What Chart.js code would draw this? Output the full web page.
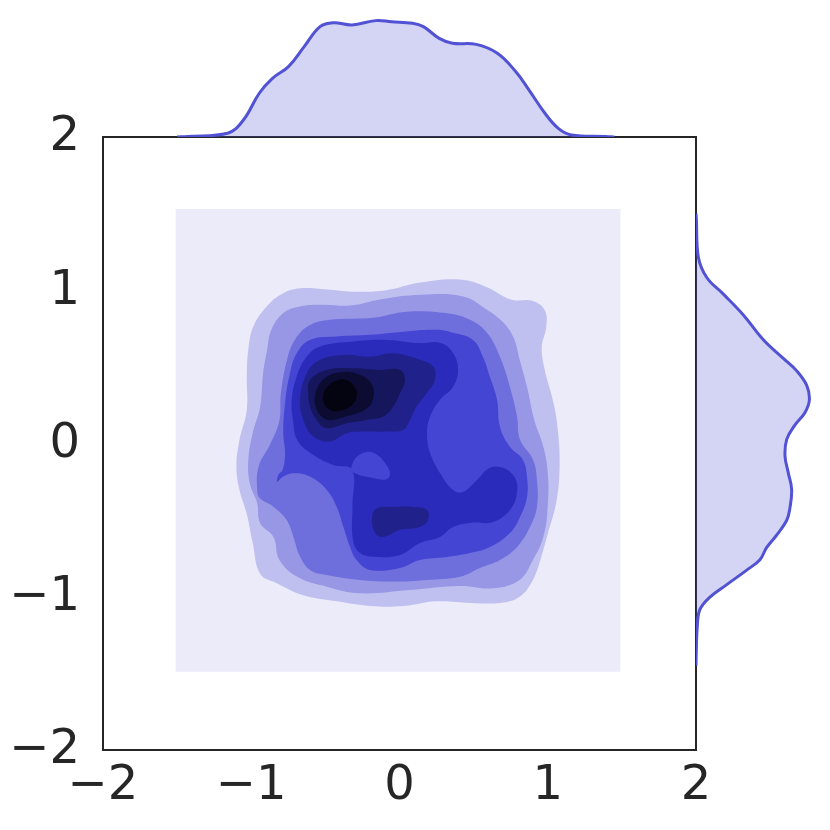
<!DOCTYPE html>
<html><head><meta charset="utf-8">
<script src="https://cdn.jsdelivr.net/npm/chart.js@4.4.1/dist/chart.umd.min.js"></script>
<style>
html,body{margin:0;padding:0;background:#fff;}
#wrap{position:relative;width:830px;height:830px;}
canvas{position:absolute;left:0;top:0;pointer-events:none;}
</style></head><body>
<div id="wrap">
<canvas id="main" width="830" height="830"></canvas>
<canvas id="top" width="830" height="830"></canvas>
<canvas id="right" width="830" height="830"></canvas>
</div>
<script>
// ---------- data ----------
const tickValues = [-2, -1, 0, 1, 2];
const levelColors = ['#ebebf9','#c0c0f0','#9797e6','#6e6edd','#4545d3','#2b2bbb','#21218c','#16165c','#0c0c33','#040410'];

const contourL0 = [[-1.51,-1.49],[1.49,-1.49],[1.49,1.53],[-1.51,1.53]];
const contourL1 = [[-1.02,0.611],[-0.986,0.763],[-0.896,0.894],[-0.784,0.981],[-0.649,1.014],[-0.469,1.003],[-0.30,0.99],[-0.09,1.00],[0.14,1.05],[0.41,1.07],[0.59,1.02],[0.75,0.94],[0.90,0.93],[0.98,0.87],[0.99,0.76],[0.96,0.63],[0.98,0.48],[1.04,0.26],[1.07,0.07],[1.08,-0.15],[1.06,-0.37],[1.00,-0.59],[0.95,-0.76],[0.90,-0.89],[0.81,-1.00],[0.68,-1.04],[0.48,-1.04],[0.25,-1.03],[0.03,-1.06],[-0.20,-1.06],[-0.42,-1.03],[-0.65,-0.99],[-0.83,-0.91],[-0.94,-0.85],[-0.99,-0.65],[-1.03,-0.46],[-1.08,-0.30],[-1.10,-0.15],[-1.08,0.02],[-1.03,0.22],[-1.03,0.44]];
const contourL2 = [[-0.895,0.60],[-0.865,0.74],[-0.784,0.851],[-0.671,0.894],[-0.514,0.905],[-0.334,0.90],[-0.13,0.94],[0.14,0.97],[0.43,0.96],[0.58,0.88],[0.70,0.79],[0.77,0.69],[0.81,0.55],[0.86,0.37],[0.91,0.15],[0.97,-0.02],[1.00,-0.19],[1.00,-0.41],[0.97,-0.61],[0.90,-0.76],[0.81,-0.89],[0.63,-0.945],[0.41,-0.93],[0.07,-0.956],[-0.27,-0.977],[-0.49,-0.934],[-0.69,-0.869],[-0.81,-0.76],[-0.85,-0.61],[-0.94,-0.52],[-0.96,-0.39],[-1.01,-0.26],[-1.02,-0.11],[-0.99,0.07],[-0.94,0.24],[-0.92,0.46]];
const contourL3 = [[-0.70,0.685],[-0.61,0.77],[-0.47,0.808],[-0.18,0.82],[0.05,0.86],[0.32,0.85],[0.476,0.807],[0.59,0.722],[0.678,0.565],[0.745,0.369],[0.793,0.174],[0.813,0.024],[0.901,-0.107],[0.927,-0.238],[0.927,-0.414],[0.88,-0.545],[0.793,-0.675],[0.678,-0.76],[0.543,-0.812],[0.408,-0.869],[0.183,-0.89],[-0.042,-0.901],[-0.266,-0.89],[-0.491,-0.858],[-0.604,-0.825],[-0.671,-0.738],[-0.716,-0.608],[-0.761,-0.499],[-0.851,-0.412],[-0.941,-0.358],[-0.96,-0.30],[-0.95,-0.15],[-0.87,0.00],[-0.81,0.15],[-0.80,0.33],[-0.755,0.56]];
const contourL4 = [[-0.693,0.589],[-0.604,0.676],[-0.424,0.698],[-0.199,0.709],[0.026,0.730],[0.251,0.742],[0.361,0.722],[0.496,0.676],[0.563,0.565],[0.610,0.434],[0.658,0.285],[0.678,0.108],[0.745,-0.022],[0.833,-0.107],[0.860,-0.218],[0.860,-0.349],[0.813,-0.479],[0.745,-0.584],[0.610,-0.675],[0.476,-0.714],[0.320,-0.740],[0.138,-0.760],[0.003,-0.812],[-0.199,-0.825],[-0.289,-0.760],[-0.334,-0.673],[-0.379,-0.542],[-0.424,-0.412],[-0.491,-0.303],[-0.604,-0.216],[-0.716,-0.194],[-0.784,-0.216],[-0.824,-0.249],[-0.818,-0.205],[-0.788,-0.172],[-0.772,-0.063],[-0.784,0.067],[-0.772,0.263],[-0.739,0.459]];
const contourL5 = [[-0.626,0.567],[-0.536,0.633],[-0.312,0.665],[-0.086,0.676],[0.138,0.655],[0.273,0.657],[0.361,0.591],[0.395,0.480],[0.361,0.369],[0.273,0.285],[0.206,0.174],[0.186,0.069],[0.206,-0.061],[0.273,-0.192],[0.361,-0.303],[0.428,-0.316],[0.523,-0.238],[0.610,-0.159],[0.698,-0.159],[0.779,-0.225],[0.793,-0.322],[0.745,-0.434],[0.631,-0.512],[0.476,-0.518],[0.361,-0.545],[0.273,-0.610],[0.138,-0.649],[0.003,-0.727],[-0.152,-0.740],[-0.266,-0.714],[-0.314,-0.629],[-0.317,-0.40],[-0.320,-0.172],[-0.449,-0.140],[-0.604,-0.061],[-0.691,0.024],[-0.716,0.133],[-0.727,0.285],[-0.693,0.437]];
const contourL4hole = [[-0.320,-0.140],[-0.287,-0.087],[-0.219,-0.055],[-0.152,-0.074],[-0.098,-0.127],[-0.064,-0.192],[-0.084,-0.231],[-0.152,-0.231],[-0.320,-0.185]];
const contourL6a = [[-0.671,0.285],[-0.626,0.459],[-0.536,0.546],[-0.379,0.578],[-0.199,0.567],[-0.042,0.589],[0.138,0.546],[0.228,0.502],[0.239,0.415],[0.183,0.328],[0.116,0.241],[0.071,0.154],[0.026,0.089],[-0.087,0.078],[-0.222,0.078],[-0.356,0.067],[-0.469,0.013],[-0.581,0.045],[-0.649,0.154]];
const contourL6b = [[-0.185,-0.479],[-0.152,-0.421],[-0.044,-0.414],[0.091,-0.414],[0.186,-0.434],[0.192,-0.499],[0.138,-0.545],[0.003,-0.564],[-0.111,-0.610],[-0.165,-0.584]];
const contourL7 = [[-0.615,0.328],[-0.604,0.415],[-0.491,0.480],[-0.311,0.491],[-0.132,0.480],[0.003,0.480],[0.037,0.415],[0.003,0.328],[-0.042,0.241],[-0.109,0.176],[-0.222,0.154],[-0.356,0.132],[-0.491,0.100],[-0.559,0.154],[-0.604,0.241]];
const contourL8 = [[-0.570,0.317],[-0.503,0.428],[-0.381,0.467],[-0.266,0.448],[-0.185,0.383],[-0.179,0.285],[-0.233,0.220],[-0.368,0.174],[-0.482,0.154],[-0.550,0.206]];
const contourL9 = [[-0.516,0.311],[-0.482,0.376],[-0.415,0.415],[-0.347,0.409],[-0.300,0.363],[-0.287,0.311],[-0.320,0.252],[-0.381,0.219],[-0.455,0.213],[-0.503,0.252]];

const topMarginalX = [-1.50,-1.428,-1.160,-1.053,-0.946,-0.857,-0.749,-0.643,-0.536,-0.447,-0.321,-0.161,-0.054,0.089,0.161,0.268,0.357,0.517,0.660,0.785,0.874,0.981,1.071,1.160,1.392,1.45];
const topMarginalDensity = [0.0,0.003,0.020,0.090,0.232,0.311,0.373,0.479,0.585,0.606,0.594,0.617,0.611,0.603,0.585,0.523,0.497,0.491,0.444,0.346,0.249,0.126,0.046,0.011,0.003,0.0];
const rightMarginalY = [1.50,1.462,1.219,1.083,0.975,0.839,0.677,0.555,0.474,0.379,0.284,0.203,0.121,0.027,-0.082,-0.190,-0.298,-0.420,-0.501,-0.597,-0.678,-0.758,-0.826,-0.921,-1.002,-1.083,-1.192,-1.380,-1.45];
const rightMarginalDensity = [0.0,0.002,0.012,0.057,0.145,0.251,0.357,0.463,0.534,0.587,0.601,0.578,0.525,0.481,0.472,0.489,0.507,0.498,0.481,0.428,0.375,0.339,0.269,0.163,0.074,0.021,0.007,0.001,0.0];

// ---------- charts ----------
const contours = [contourL0,contourL1,contourL2,contourL3,contourL4,contourL5,contourL4hole,contourL6a,contourL6b,contourL7,contourL8,contourL9];
const contourLevel = [0,1,2,3,4,5,4,6,6,7,8,9];
const fontFamily = "'DejaVu Sans', 'Liberation Sans', sans-serif";
const textColor = '#262626';
const fmt = v => String(v).replace('-', '\u2212');

const framePlugin = {
  id: 'frame',
  afterDraw(chart) {
    const a = chart.chartArea, ctx = chart.ctx;
    ctx.save();
    ctx.strokeStyle = textColor;
    ctx.lineWidth = 2;
    ctx.strokeRect(a.left, a.top, a.right - a.left, a.bottom - a.top);
    ctx.restore();
  }
};

// make each contour line a closed smooth loop
const closedLoopPlugin = {
  id: 'closedLoop',
  afterDatasetUpdate(chart, args) {
    const line = args.meta.dataset;
    if (line) {
      line._loop = true;
      line._fullLoop = true;
      delete line._segments;
      delete line._path;
      line._pointsUpdated = false;
    }
  }
};

new Chart(document.getElementById('main'), {
  type: 'line',
  data: {
    datasets: contours.map((c, i) => ({
      data: c.map(p => ({x: p[0], y: p[1]})),
      backgroundColor: levelColors[contourLevel[i]],
      borderColor: 'rgba(0,0,0,0)',
      borderWidth: 0,
      pointRadius: 0,
      fill: 'shape',
      tension: i === 0 ? 0 : 0.4,
      order: 100 - i
    }))
  },
  options: {
    responsive: false, animation: false,
    layout: {padding: {top: 137, right: 134, left: 0, bottom: 0}},
    plugins: {legend: {display: false}, tooltip: {enabled: false}},
    scales: {
      x: {
        type: 'linear', min: -2, max: 2,
        grid: {display: false, drawTicks: false},
        border: {display: false},
        afterBuildTicks: s => { s.ticks = tickValues.map(v => ({value: v})); },
        afterFit: s => { s.height = 80; },
        ticks: {padding: 8, color: textColor, font: {family: fontFamily, size: 48}, callback: fmt, maxRotation: 0, autoSkip: false}
      },
      y: {
        type: 'linear', min: -2, max: 2,
        grid: {display: false, drawTicks: false},
        border: {display: false},
        afterBuildTicks: s => { s.ticks = tickValues.map(v => ({value: v})); },
        afterFit: s => { s.width = 103; },
        ticks: {padding: 23, labelOffset: 1, color: textColor, font: {family: fontFamily, size: 48}, callback: fmt, autoSkip: false}
      }
    }
  },
  plugins: [closedLoopPlugin, framePlugin]
});

const marginColor = '#5252d4';
const marginFill = 'rgba(85,85,213,0.25)';

new Chart(document.getElementById('top'), {
  type: 'line',
  data: {
    datasets: [{
      data: topMarginalX.map((x, i) => ({x: x, y: topMarginalDensity[i]})),
      borderColor: marginColor, backgroundColor: marginFill,
      borderWidth: 3, pointRadius: 0, fill: 'origin', tension: 0.4
    }]
  },
  options: {
    responsive: false, animation: false,
    layout: {padding: {top: 14.4, right: 134, left: 103, bottom: 693}},
    plugins: {legend: {display: false}, tooltip: {enabled: false}},
    scales: {
      x: {type: 'linear', min: -2, max: 2, display: false},
      y: {type: 'linear', min: 0, max: 0.65, display: false}
    }
  }
});

new Chart(document.getElementById('right'), {
  type: 'line',
  data: {
    datasets: [{
      data: rightMarginalY.map((y, i) => ({x: rightMarginalDensity[i], y: y})),
      borderColor: marginColor, backgroundColor: marginFill,
      borderWidth: 3, pointRadius: 0, fill: 'origin', tension: 0.4
    }]
  },
  options: {
    indexAxis: 'y',
    responsive: false, animation: false,
    layout: {padding: {top: 137, right: 11.4, left: 696, bottom: 80}},
    plugins: {legend: {display: false}, tooltip: {enabled: false}},
    scales: {
      x: {type: 'linear', min: 0, max: 0.65, display: false},
      y: {type: 'linear', min: -2, max: 2, display: false}
    }
  }
});
</script>
</body></html>
